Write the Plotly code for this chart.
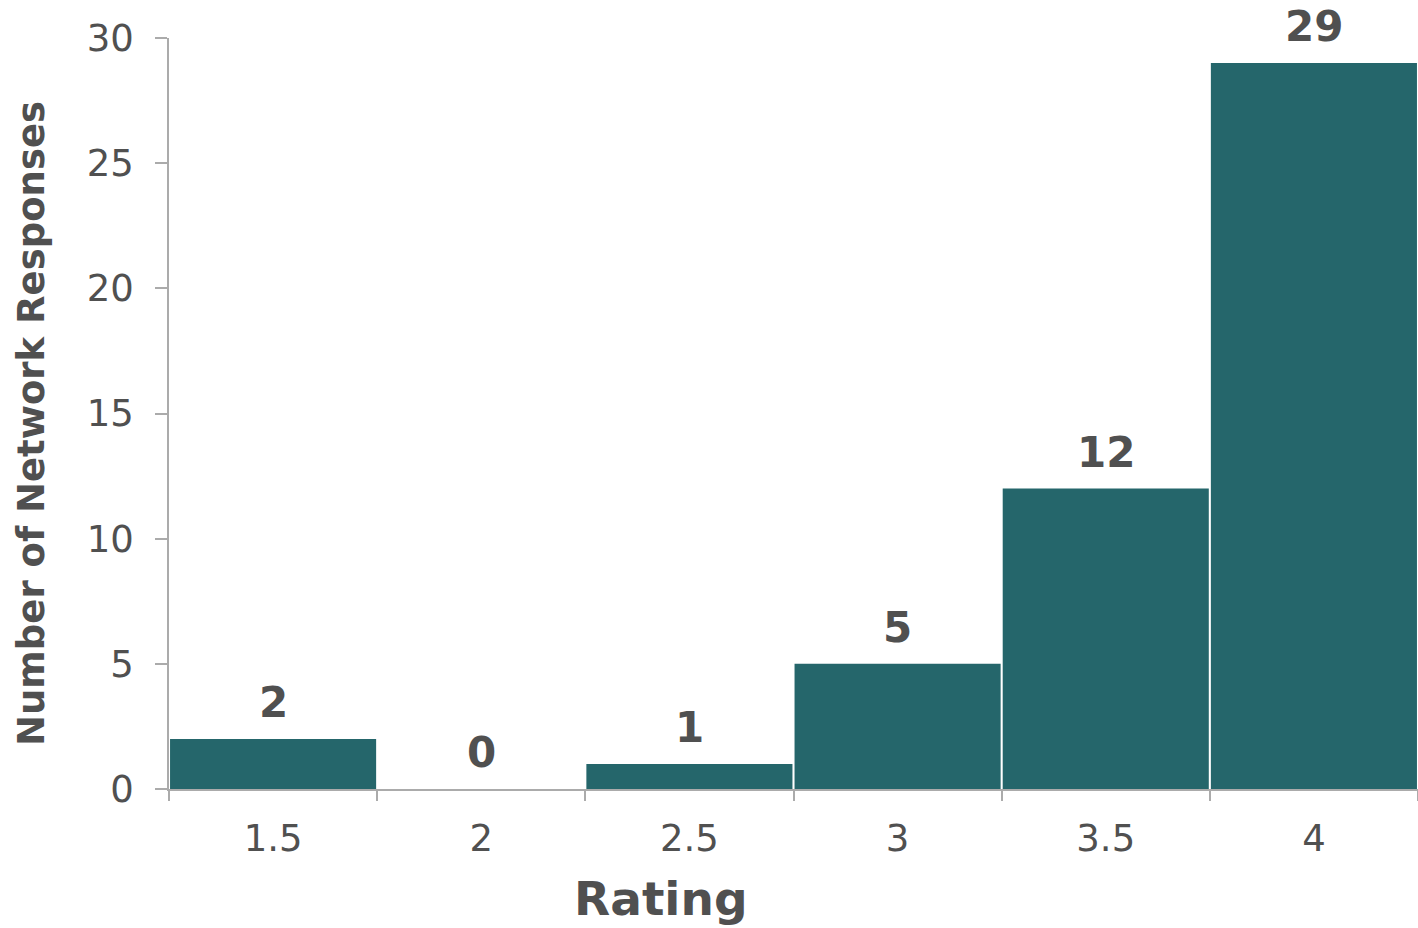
import plotly.graph_objects as go

categories = ["1.5", "2", "2.5", "3", "3.5", "4"]
counts = [2, 0, 1, 5, 12, 29]
y_ticks = [0, 5, 10, 15, 20, 25, 30]

FONT = "Verdana, DejaVu Sans, sans-serif"
TEXT = "#505050"
AXIS = "#ababab"

W, H = 1418, 928
ML, MR, MT, MB = 169, 0, 38, 139
plot_w = W - ML - MR
plot_h = H - MT - MB

fig = go.Figure(
    go.Bar(
        x=categories,
        y=counts,
        marker=dict(color="#25666b", line=dict(width=0)),
        cliponaxis=False,
    )
)

# value labels above bars (x by category index)
for i, v in enumerate(counts):
    fig.add_annotation(
        x=i, y=v, xref="x", yref="y", text=str(v), showarrow=False,
        yanchor="bottom", yshift=10,
        font=dict(family=FONT, size=42, color=TEXT, weight="bold"),
    )

# axis titles as paper annotations (pixel positions converted to paper units)
fig.add_annotation(
    x=(661 - ML) / plot_w, y=-(898 - MT - plot_h) / plot_h,
    xref="paper", yref="paper", text="Rating", showarrow=False,
    xanchor="center", yanchor="middle", borderpad=0,
    font=dict(family=FONT, size=47, color=TEXT, weight="bold"),
)
fig.add_annotation(
    x=(31 - ML) / plot_w, y=1 - (424 - MT) / plot_h,
    xref="paper", yref="paper", text="Number of Network Responses",
    showarrow=False, textangle=-90, xanchor="center", yanchor="middle",
    font=dict(family=FONT, size=37, color=TEXT, weight="bold"),
)

fig.update_layout(
    width=W,
    height=H,
    margin=dict(l=ML, r=MR, t=MT, b=MB),
    paper_bgcolor="white",
    plot_bgcolor="white",
    bargap=0.01,
    showlegend=False,
    font=dict(family=FONT, color=TEXT),
)

fig.update_xaxes(
    type="category",
    tickson="boundaries",
    ticks="outside",
    ticklen=10,
    tickcolor=AXIS,
    tickwidth=1.5,
    showline=True,
    linecolor=AXIS,
    linewidth=1.5,
    showgrid=False,
    tickfont=dict(family=FONT, size=37, color=TEXT),
    ticklabelstandoff=16,
)

fig.update_yaxes(
    range=[0, 30],
    tickvals=y_ticks,
    ticks="outside",
    ticklen=12,
    tickcolor=AXIS,
    tickwidth=1.5,
    showline=True,
    linecolor=AXIS,
    linewidth=1.5,
    showgrid=False,
    zeroline=False,
    tickfont=dict(family=FONT, size=37, color=TEXT),
    ticklabelstandoff=14,
)

fig.write_html(
    "out.html",
    config={"displayModeBar": False},
    post_script="document.body.style.margin='0';document.body.style.overflow='hidden';",
)
